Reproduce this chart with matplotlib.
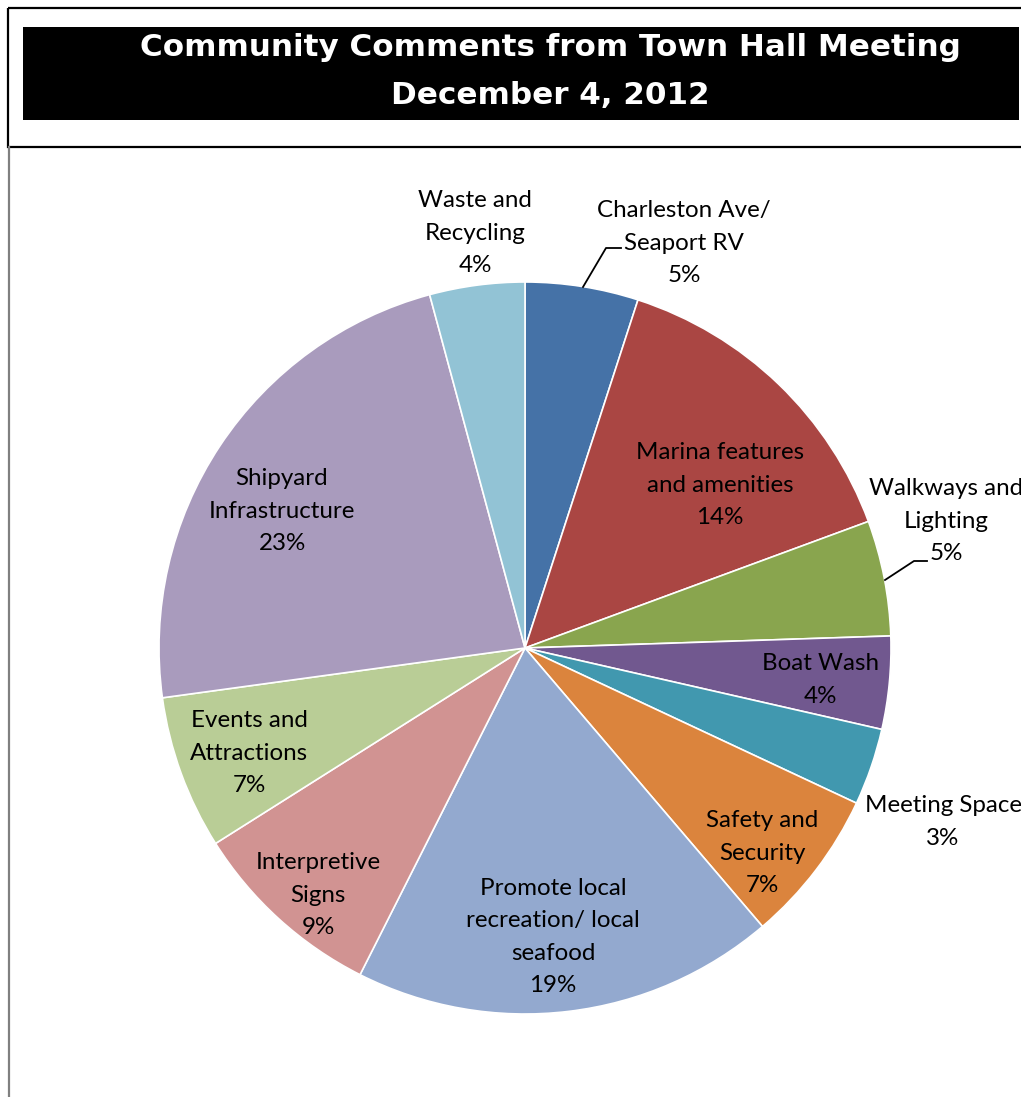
import matplotlib
matplotlib.use("Agg")
import matplotlib.pyplot as plt
from matplotlib.patches import Rectangle
from matplotlib.lines import Line2D

categories = ["Charleston Ave/\nSeaport RV", "Marina features\nand amenities", "Walkways and\nLighting",
              "Boat Wash", "Meeting Space", "Safety and\nSecurity", "Promote local\nrecreation/ local\nseafood",
              "Interpretive\nSigns", "Events and\nAttractions", "Shipyard\nInfrastructure", "Waste and\nRecycling"]
values = [5.0, 14.4, 5.1, 4.1, 3.4, 6.8, 18.7, 8.6, 6.8, 23.0, 4.2]
colors = ["#4572A7", "#AA4643", "#89A54E", "#71588F", "#4198AF", "#DB843D",
          "#93A9CF", "#D19392", "#B9CD96", "#A99BBD", "#92C3D5"]
title_lines = ["Community Comments from Town Hall Meeting", "December 4, 2012"]

W, H = 1021, 1097
fig = plt.figure(figsize=(W / 100, H / 100), dpi=100)

# frame / title box (figure pixel coords)
bg = fig.add_axes([0, 0, 1, 1])
bg.set_xlim(0, W)
bg.set_ylim(H, 0)
bg.axis("off")
bg.add_patch(Rectangle((7.5, 7.5), 1030, 139.5, fill=False, edgecolor="black", lw=1.6))
bg.add_patch(Rectangle((23, 27), 996, 93, facecolor="black", edgecolor="none"))
bg.add_line(Line2D([8.5, 8.5], [147, H], color="#808080", lw=1.6))
bg.text(550, 47, title_lines[0], color="white", fontsize=22.3, fontweight="bold",
        family="DejaVu Sans", ha="center", va="center")
bg.text(550, 96, title_lines[1], color="white", fontsize=22.3, fontweight="bold",
        family="DejaVu Sans", ha="center", va="center")

# pie axes: center (525,648) radius 366 px
cx, cy, R = 525, 648, 366
ax = fig.add_axes([(cx - R) / W, (H - cy - R) / H, 2 * R / W, 2 * R / H])
ax.pie(values, colors=colors, startangle=90, counterclock=False, radius=1,
       wedgeprops=dict(edgecolor="white", linewidth=1.2))
ax.set_xlim(-1, 1)
ax.set_ylim(-1, 1)
ax.set_aspect("auto")
ax.axis("off")

def d(px, py):
    return (px - cx) / R, (cy - py) / R

label_pos = [(684, 243), (720, 485), (946, 521), (820, 680), (943, 822), (762, 853),
             (553, 937), (318, 895), (249, 753), (282, 511), (475, 233)]
tot = sum(values)
for cat, v, (px, py) in zip(categories, values, label_pos):
    x, y = d(px, py)
    ax.text(x, y, f"{cat}\n{round(v / tot * 100):.0f}%", ha="center", va="center",
            fontsize=17.4, family="Lato", linespacing=1.67, color="black", clip_on=False)

# leader lines
for pts in ([(583, 287), (606, 248), (621, 248)], [(885, 580), (914, 561), (927, 561)]):
    xs, ys = zip(*[d(*p) for p in pts])
    ax.add_line(Line2D(xs, ys, color="black", lw=1.3, clip_on=False))

fig.savefig("out.png", dpi=100)
